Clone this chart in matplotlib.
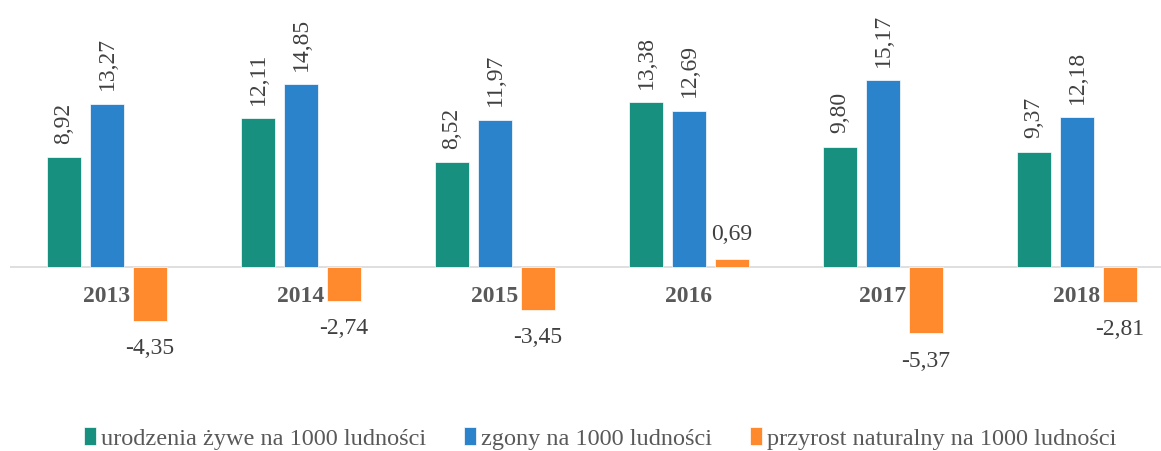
import numpy as np
import matplotlib
matplotlib.use("Agg")
import matplotlib.pyplot as plt

plt.rcParams['font.family'] = ['Liberation Serif', 'DejaVu Serif']

years = ['2013', '2014', '2015', '2016', '2017', '2018']
urodzenia = [8.92, 12.11, 8.52, 13.38, 9.80, 9.37]
zgony = [13.27, 14.85, 11.97, 12.69, 15.17, 12.18]
przyrost = [-4.35, -2.74, -3.45, 0.69, -5.37, -2.81]

labels = ['urodzenia żywe na 1000 ludności', 'zgony na 1000 ludności',
          'przyrost naturalny na 1000 ludności']
COLORS = ['#17907F', '#2B83CC', '#FE8A2D']
TXT = '#404040'


def fmt(v):
    return f'{v:.2f}'.replace('.', ',')


fig = plt.figure(figsize=(11.61, 4.52), dpi=100)
ax = fig.add_axes([10 / 1161, 72 / 452, 1151 / 1161, 370 / 452])

x = np.arange(len(years))
w = 0.175
step = 0.222

b1 = ax.bar(x - step, urodzenia, w, color=COLORS[0], edgecolor='white', linewidth=0.5, label=labels[0])
b2 = ax.bar(x, zgony, w, color=COLORS[1], edgecolor='white', linewidth=0.5, label=labels[1])
b3 = ax.bar(x + step, przyrost, w, color=COLORS[2], edgecolor='white', linewidth=0.5, label=labels[2])

ax.axhline(0, color='#D9D9D9', lw=1.2, zorder=0)
ax.set_xlim(-0.5, -0.5 + 1151 / 194)
ax.set_ylim(-9.1, 20.98)
ax.axis('off')

FS = 17

# rotated labels above green and blue bars
for bars in (b1, b2):
    for bar in bars:
        h = bar.get_height()
        ax.annotate(fmt(h), xy=(bar.get_x() + bar.get_width() / 2, h),
                    xytext=(0, 10.5), textcoords='offset points', rotation=90,
                    ha='center', va='bottom', fontsize=FS, color=TXT)

for bar in b3:
    h = bar.get_height()
    cx = bar.get_x() + bar.get_width() / 2
    off = 18 if h >= 0 else -19.5
    ax.annotate(fmt(h), xy=(cx, h), xytext=(0, off), textcoords='offset points',
                ha='center', va='center', fontsize=FS, color=TXT)

for i, y in enumerate(years):
    ax.text(i, -2.35, y, ha='center', va='center', fontsize=FS,
            fontweight='bold', color='#595959')

fig.legend(handles=[b1, b2, b3], labels=labels, loc='center',
           bbox_to_anchor=(600 / 1161, 13 / 452), ncol=3, frameon=False, fontsize=17.5,
           labelcolor='#595959', handlelength=0.5, handleheight=0.75,
           handletextpad=0.2, columnspacing=1.55)

fig.savefig('out.png', dpi=100)
